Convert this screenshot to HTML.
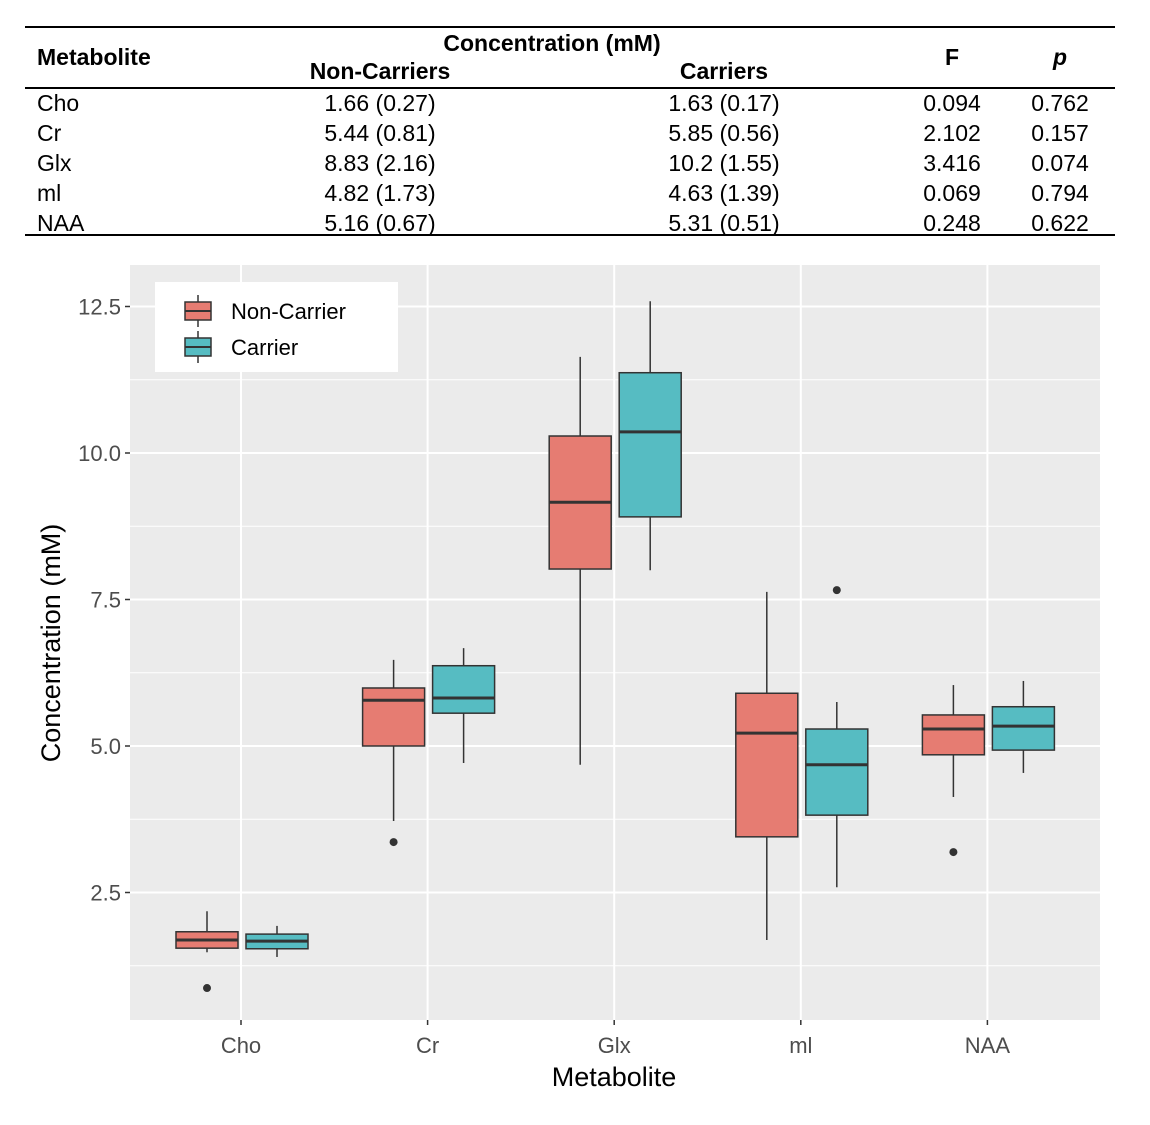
<!DOCTYPE html>
<html><head><meta charset="utf-8"><style>
body{margin:0;background:#fff;width:1150px;height:1120px;overflow:hidden;font-family:"Liberation Sans",Arial,sans-serif}
svg text{font-family:"Liberation Sans",Arial,sans-serif}
</style></head><body>
<svg id="chart" width="1150" height="1120">
<g id="table">
<line x1="25" y1="27" x2="1115" y2="27" stroke="#000" stroke-width="2"/>
<line x1="25" y1="88" x2="1115" y2="88" stroke="#000" stroke-width="2"/>
<line x1="25" y1="235" x2="1115" y2="235" stroke="#000" stroke-width="2"/>
<g font-weight="bold" font-size="23" fill="#000">
<text x="37" y="65">Metabolite</text>
<text x="552" y="51" text-anchor="middle">Concentration (mM)</text>
<text x="380" y="79" text-anchor="middle">Non-Carriers</text>
<text x="724" y="79" text-anchor="middle">Carriers</text>
<text x="952" y="65" text-anchor="middle">F</text>
<text x="1060" y="65" text-anchor="middle" font-style="italic">p</text>
</g>
<g id="rows" font-size="23" fill="#000"></g>
</g>
<g id="plot"></g>
</svg>
<script>
const tMet=["Cho","Cr","Glx","mI","NAA"];
const tNon=["1.66 (0.27)","5.44 (0.81)","8.83 (2.16)","4.82 (1.73)","5.16 (0.67)"];
const tCar=["1.63 (0.17)","5.85 (0.56)","10.2 (1.55)","4.63 (1.39)","5.31 (0.51)"];
const tF=["0.094","2.102","3.416","0.069","0.248"];
const tP=["0.762","0.157","0.074","0.794","0.622"];
const tLabel=["Cho","Cr","Glx","ml","NAA"];

const categories=["Cho","Cr","Glx","ml","NAA"];
const yTicks=[2.5,5.0,7.5,10.0,12.5];
const yTickLabels=["2.5","5.0","7.5","10.0","12.5"];
// [low, q1, median, q3, high]
const nonCarrier=[[1.48,1.55,1.69,1.83,2.18],[3.72,5.0,5.78,5.99,6.47],[4.68,8.02,9.16,10.29,11.64],[1.69,3.45,5.22,5.90,7.63],[4.13,4.85,5.29,5.53,6.04]];
const carrier=[[1.40,1.54,1.67,1.79,1.93],[4.71,5.56,5.82,6.37,6.67],[8.00,8.91,10.36,11.37,12.59],[2.59,3.82,4.68,5.29,5.75],[4.54,4.93,5.34,5.67,6.11]];
const nonCarrierOutliers=[[0,0.87],[1,3.36],[4,3.19]];
const carrierOutliers=[[3,7.66]];

const NS="http://www.w3.org/2000/svg";
function mk(tag,attrs,parent){const e=document.createElementNS(NS,tag);for(const k in attrs)e.setAttribute(k,attrs[k]);parent.appendChild(e);return e;}
const rows=document.getElementById('rows');
tMet.forEach((m,i)=>{
  const y=111+i*30;
  let t=mk('text',{x:37,y:y},rows);t.textContent=tLabel[i];
  
  
  const cols=[[380,tNon[i]],[724,tCar[i]],[952,tF[i]],[1060,tP[i]]];
  cols.forEach(c=>{const e=mk('text',{x:c[0],y:y,'text-anchor':'middle'},rows);e.textContent=c[1];
    
    });
});

const px0=130,px1=1100,py0=265,py1=1020;
const yScale=v=>746-(v-5)*58.6;
const xScale=i=>241+i*186.6;
const plot=document.getElementById('plot');
const panel=mk('rect',{x:px0,y:py0,width:px1-px0,height:py1-py0,fill:'#ebebeb'},plot);


[1.25,3.75,6.25,8.75,11.25].forEach(v=>mk('line',{x1:px0,x2:px1,y1:yScale(v),y2:yScale(v),stroke:'#fff','stroke-width':1},plot));
yTicks.forEach((v,i)=>{
  mk('line',{x1:px0,x2:px1,y1:yScale(v),y2:yScale(v),stroke:'#fff','stroke-width':2},plot);
  mk('line',{x1:px0-5,x2:px0,y1:yScale(v),y2:yScale(v),stroke:'#333','stroke-width':1.5},plot);
  const t=mk('text',{x:px0-9,y:yScale(v)+8,'text-anchor':'end','font-size':22,fill:'#4d4d4d'},plot);t.textContent=yTickLabels[i];
  
  
});
categories.forEach((c,i)=>{
  mk('line',{x1:xScale(i),x2:xScale(i),y1:py0,y2:py1,stroke:'#fff','stroke-width':2},plot);
  mk('line',{x1:xScale(i),x2:xScale(i),y1:py1,y2:py1+5,stroke:'#333','stroke-width':1.5},plot);
  const t=mk('text',{x:xScale(i),y:py1+33,'text-anchor':'middle','font-size':22,fill:'#4d4d4d'},plot);t.textContent=c;
  
  
});
function drawBox(cx,d,fill,name){
  const g=mk('g',{},plot);
  
  
  mk('line',{x1:cx,x2:cx,y1:yScale(d[0]),y2:yScale(d[4]),stroke:'#333','stroke-width':1.5},g);
  mk('rect',{x:cx-31,y:yScale(d[3]),width:62,height:yScale(d[1])-yScale(d[3]),fill:fill,stroke:'#333','stroke-width':1.5},g);
  mk('line',{x1:cx-31,x2:cx+31,y1:yScale(d[2]),y2:yScale(d[2]),stroke:'#333','stroke-width':3},g);
}
nonCarrier.forEach((d,i)=>drawBox(xScale(i)-34,d,'#E67C72','box-non-carrier-'+categories[i].toLowerCase()));
carrier.forEach((d,i)=>drawBox(xScale(i)+36,d,'#56BCC2','box-carrier-'+categories[i].toLowerCase()));
nonCarrierOutliers.forEach(o=>{const c=mk('circle',{cx:xScale(o[0])-34,cy:yScale(o[1]),r:4,fill:'#333'},plot);
  
  });
carrierOutliers.forEach(o=>{const c=mk('circle',{cx:xScale(o[0])+36,cy:yScale(o[1]),r:4,fill:'#333'},plot);
  
  });

const lg=mk('g',{},plot);


mk('rect',{x:155,y:282,width:243,height:90,fill:'#fff'},lg);
[['Non-Carrier','#E67C72',311],['Carrier','#56BCC2',347]].forEach(l=>{
  const k=mk('g',{},lg);
  
  
  mk('line',{x1:198,x2:198,y1:l[2]-16,y2:l[2]+16,stroke:'#333','stroke-width':1.5},k);
  mk('rect',{x:185,y:l[2]-9,width:26,height:18,fill:l[1],stroke:'#333','stroke-width':1.5},k);
  mk('line',{x1:185,x2:211,y1:l[2],y2:l[2],stroke:'#333','stroke-width':2},k);
  const t=mk('text',{x:231,y:l[2]+8,'font-size':22,fill:'#000'},k);t.textContent=l[0];
});
const yt=mk('text',{x:0,y:0,'font-size':27,fill:'#000','text-anchor':'middle',transform:'translate(60,643) rotate(-90)'},plot);
yt.textContent='Concentration (mM)';


const xt=mk('text',{x:614,y:1086,'font-size':27,fill:'#000','text-anchor':'middle'},plot);
xt.textContent='Metabolite';


</script>
</body></html>
